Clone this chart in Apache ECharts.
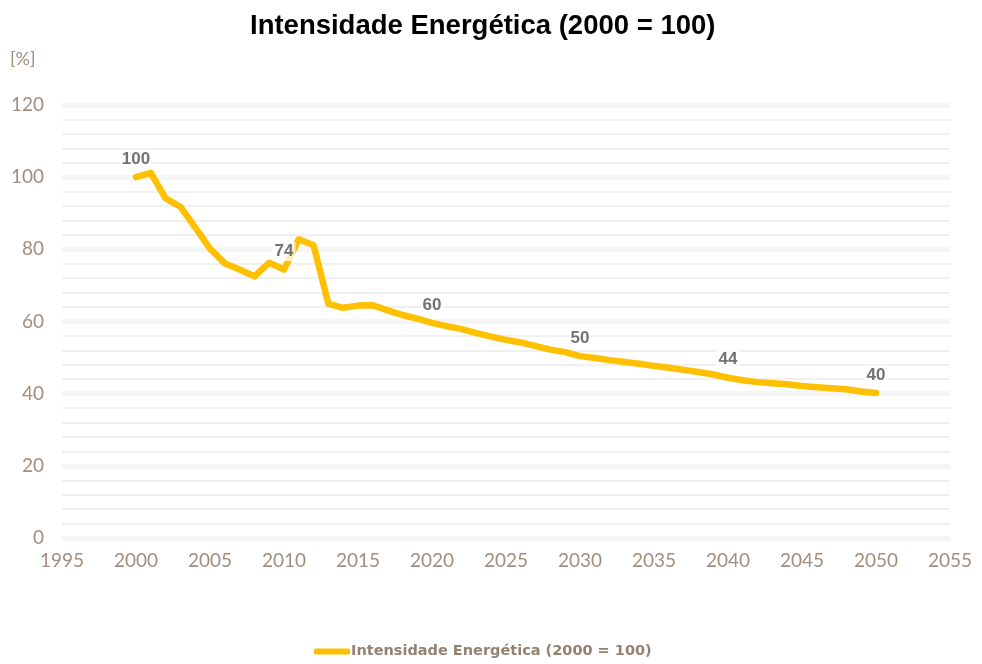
<!DOCTYPE html>
<html>

<head>
    <meta charset="UTF-8">
    <title>Intensidade Energética</title>
    <script src="https://cdn.jsdelivr.net/npm/echarts/dist/echarts.min.js"></script>
    <style>
        body { margin: 0; background: #fff; }
    </style>
</head>

<body>
    <div id="chart" style="width: 982px;height:664px;"></div>
    <script type="text/javascript">
        var myChart = echarts.init(document.getElementById('chart'));

        // years 2000..2050
        var years = [];
        for (var y = 2000; y <= 2050; y++) years.push(y);

        // index values (2000 = 100)
        var intensity = [
            100.0, 101.2, 94.1, 91.8, 86.1, 80.2, 76.1, 74.4, 72.5, 76.3,
            74.4, 82.8, 81.1, 64.9, 63.8, 64.4, 64.5, 63.1, 61.8, 60.8,
            59.6, 58.7, 57.9, 56.8, 55.8, 54.9, 54.2, 53.2, 52.2, 51.5,
            50.4, 49.9, 49.3, 48.8, 48.3, 47.7, 47.2, 46.6, 46.0, 45.3,
            44.4, 43.7, 43.2, 42.9, 42.6, 42.1, 41.8, 41.5, 41.2, 40.6,
            40.2
        ];
        // years that carry a value label
        var labelYears = [2000, 2010, 2020, 2030, 2040, 2050];

        var seriesName = 'Intensidade Energética (2000 = 100)';
        var axisColor = '#a08e7e';

        var data = years.map(function (yr, i) {
            var item = { value: [yr, intensity[i]] };
            if (labelYears.indexOf(yr) >= 0) {
                item.label = { show: true };
            }
            return item;
        });

        var option = {
            animation: false,
            title: {
                text: 'Intensidade Energética (2000 = 100)',
                left: 245,
                top: 7,
                textStyle: {
                    fontFamily: 'Liberation Sans',
                    fontSize: 27.5,
                    fontWeight: 'bold',
                    color: '#000'
                }
            },
            graphic: [{
                type: 'text',
                left: 10,
                top: 50,
                style: {
                    text: '[%]',
                    fontFamily: 'Lato',
                    fontSize: 18,
                    fill: axisColor
                }
            }],
            legend: {
                bottom: 0,
                left: 309,
                icon: 'roundRect',
                itemWidth: 36,
                itemHeight: 6,
                itemGap: 0,
                textStyle: {
                    fontFamily: 'DejaVu Sans',
                    fontWeight: 'bold',
                    fontSize: 14.5,
                    color: '#948170',
                    padding: [0, 0, 0, -4]
                },
                data: [seriesName]
            },
            grid: {
                left: 62,
                right: 32,
                top: 105,
                bottom: 126
            },
            xAxis: {
                type: 'value',
                min: 1995,
                max: 2055,
                interval: 5,
                axisLine: { show: false },
                axisTick: { show: false },
                splitLine: { show: false },
                axisLabel: {
                    fontFamily: 'Lato',
                    fontSize: 19,
                    color: axisColor,
                    margin: 13,
                    formatter: function (v) { return String(v); }
                }
            },
            yAxis: {
                type: 'value',
                min: 0,
                max: 120,
                interval: 20,
                axisLine: { show: false },
                axisTick: { show: false },
                axisLabel: {
                    fontFamily: 'Lato',
                    fontSize: 19,
                    color: axisColor,
                    margin: 18
                },
                splitLine: {
                    lineStyle: { color: '#f5f5f5', width: 5 }
                },
                minorTick: { show: false, splitNumber: 5 },
                minorSplitLine: {
                    show: true,
                    lineStyle: { color: '#ececec', width: 1.5 }
                }
            },
            series: [{
                name: seriesName,
                type: 'line',
                data: data,
                showSymbol: true,
                symbol: 'circle',
                symbolSize: 0,
                color: '#FFC000',
                lineStyle: { width: 6.5, color: '#FFC000', cap: 'round', join: 'round' },
                label: {
                    show: false,
                    position: 'top',
                    distance: 8.5,
                    fontFamily: 'Liberation Sans',
                    fontWeight: 'bold',
                    fontSize: 17,
                    color: '#767171',
                    backgroundColor: 'rgba(255,255,255,0.75)',
                    padding: [1, 2],
                    formatter: function (p) {
                        return Math.round(p.value[1]);
                    }
                },
                labelLayout: { hideOverlap: false },
                z: 3
            }]
        };

        myChart.setOption(option);
    </script>
</body>

</html>
